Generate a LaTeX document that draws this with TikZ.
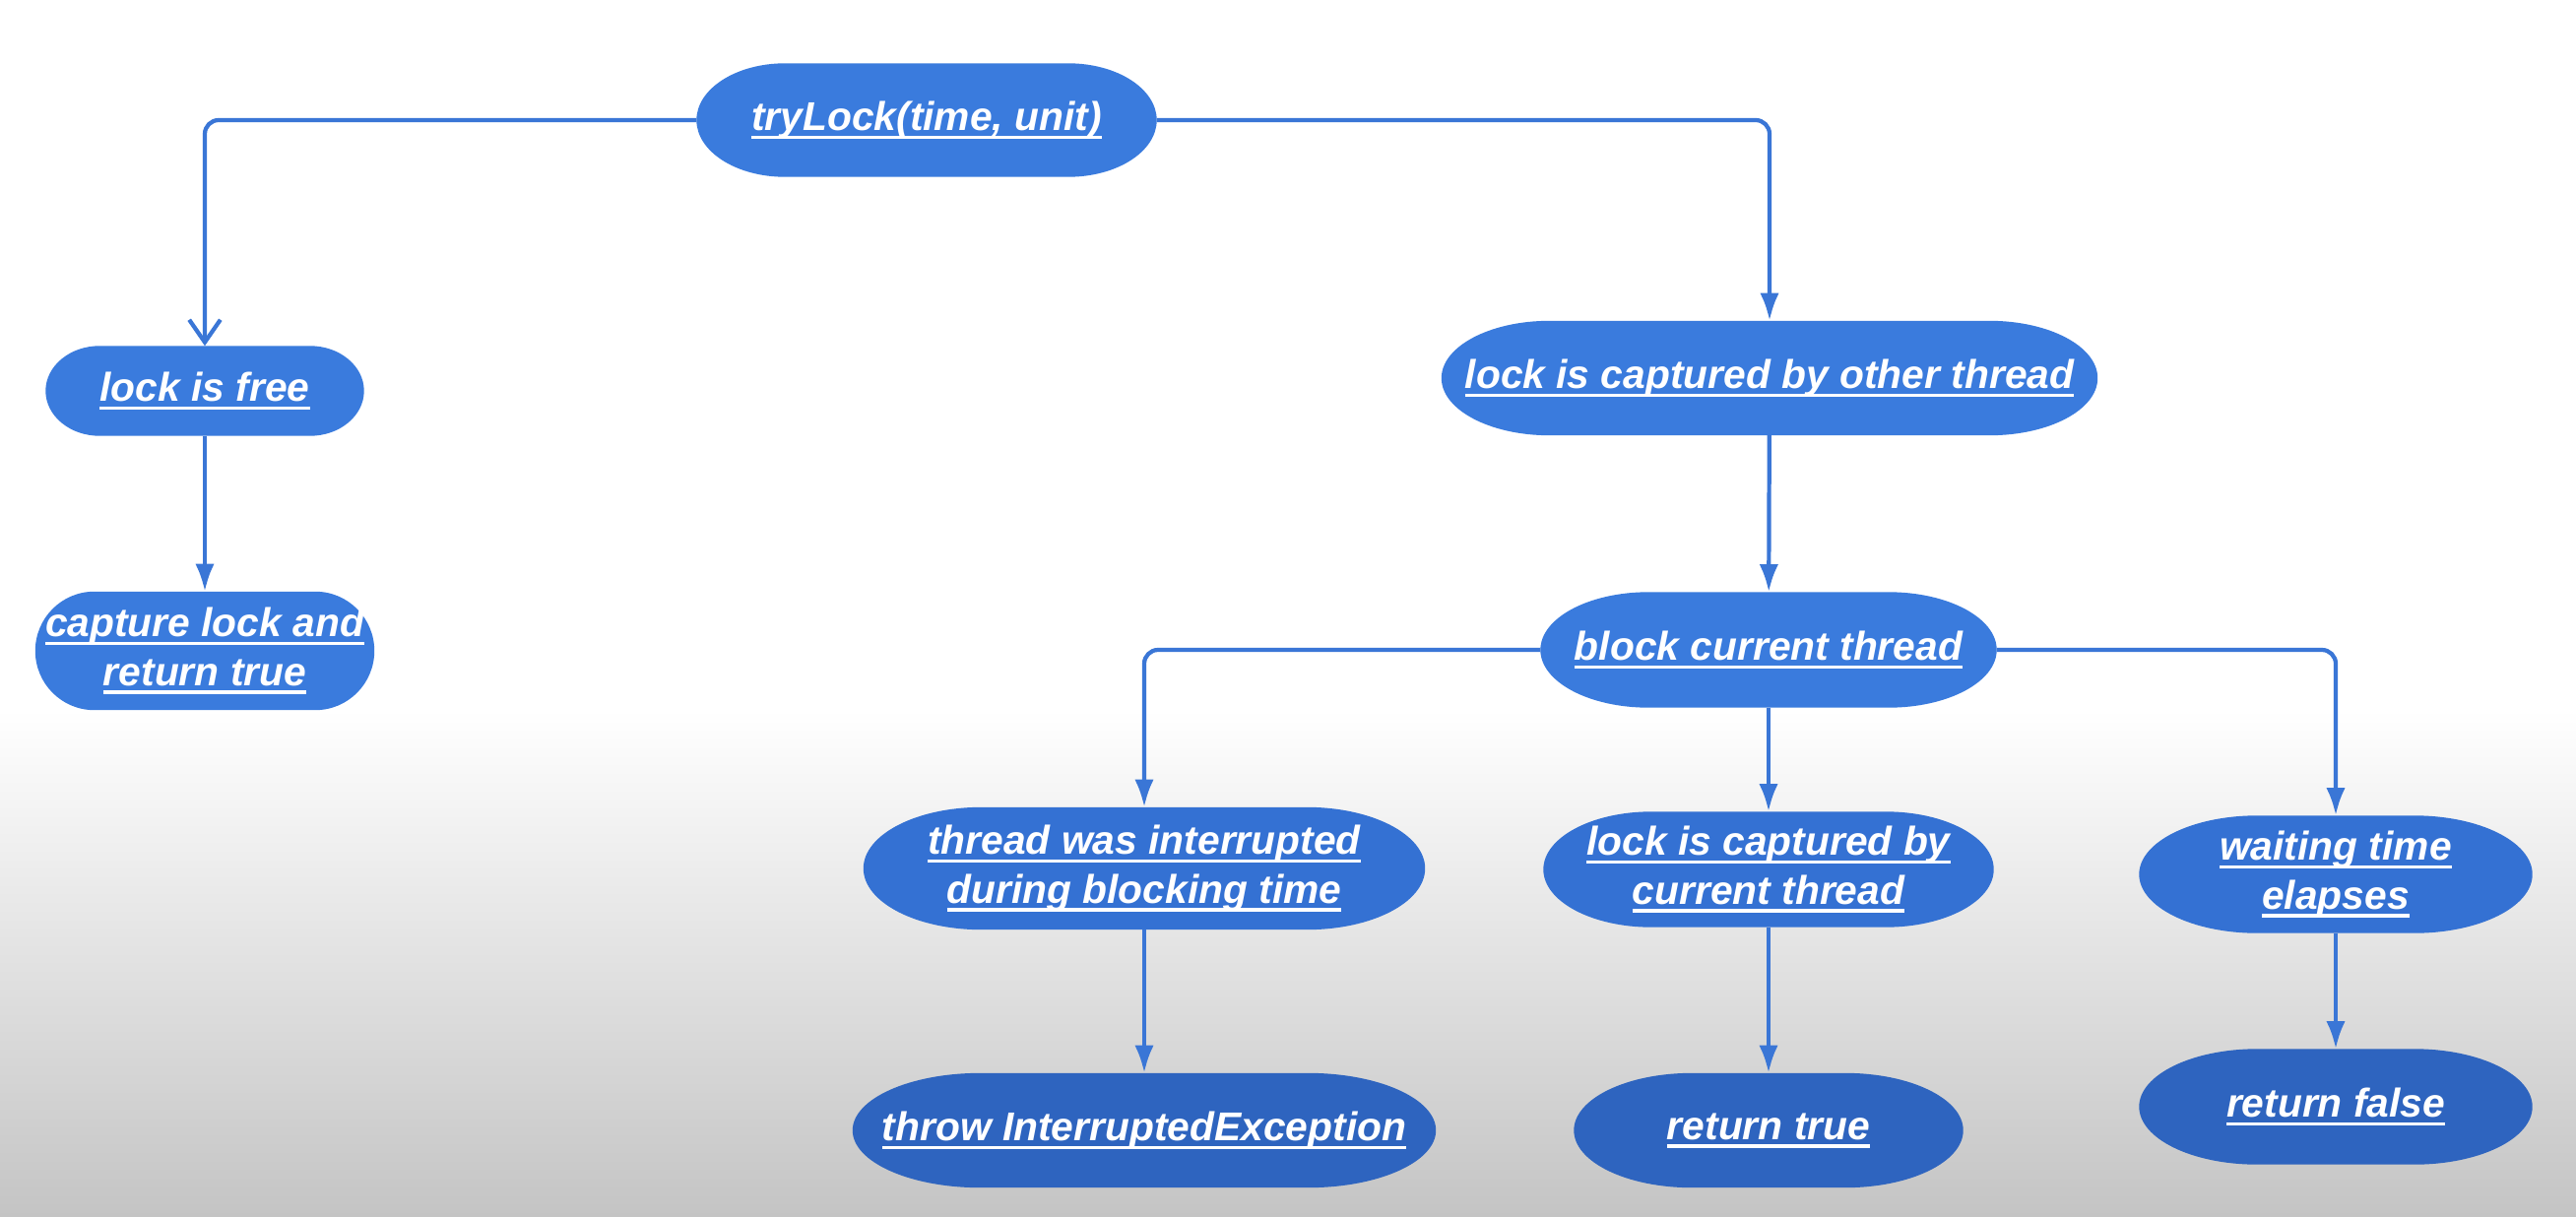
\documentclass[tikz,border=0pt]{standalone}
\usepackage{fontspec}
\usepackage{tikz}
\usetikzlibrary{calc}
\usetikzlibrary{arrows.meta}
\newfontfamily\pillfont{Liberation Sans}
\definecolor{pillA}{HTML}{3A7BDD}
\definecolor{pillB}{HTML}{3471D3}
\definecolor{pillC}{HTML}{2E64BF}
\definecolor{wire}{HTML}{3A76D6}
\definecolor{bggray}{HTML}{C4C4C4}
\pgfdeclarelayer{paper}
\pgfdeclarelayer{pills}
\pgfsetlayers{paper,pills,main}
\newsavebox{\pillbox}
\newcommand{\pillul}[1]{\sbox{\pillbox}{#1}\rlap{\vrule height -1.5pt depth 2.4pt width \wd\pillbox}\usebox{\pillbox}}

\begin{document}
\begin{tikzpicture}[
  pill/.style={rectangle, inner sep=0pt, align=center, text=white,
    font=\pillfont\bfseries\itshape\fontsize{11.6}{14}\selectfont},
  wireline/.style={draw=wire, line width=1.2pt, rounded corners=4pt},
  arr/.style={wireline, -{Latex[length=8pt,width=5.5pt]}},
  barb/.style={wireline, -{Straight Barb[length=6.5pt,width=9pt,line width=1.2pt]}}]
\useasboundingbox (0,0) rectangle (26.16,-12.36);
\begin{pgfonlayer}{paper}
\fill[white] (0,0) rectangle (26.16,-12.36);
\shade[top color=white, bottom color=bggray] (0,-7.2) rectangle (26.16,-12.36);
\end{pgfonlayer}

\node (try) at (9.41,-1.22) [pill, minimum width=4.66cm, minimum height=1.14cm] {\pillul{tryLock(time, unit)}};
\node (free) at (2.08,-3.97) [pill, minimum width=3.22cm, minimum height=0.90cm] {\pillul{lock is free}};
\node (capt) at (2.08,-6.61) [pill, minimum width=3.43cm, minimum height=1.19cm] {\pillul{capture lock and}\\\pillul{return true}};
\node (other) at (17.97,-3.84) [pill, minimum width=6.65cm, minimum height=1.15cm] {\pillul{lock is captured by other thread}};
\node (block) at (17.96,-6.60) [pill, minimum width=4.62cm, minimum height=1.16cm] {\pillul{block current thread}};
\node (intr) at (11.62,-8.82) [pill, minimum width=5.69cm, minimum height=1.23cm] {\pillul{thread was interrupted}\\\pillul{during blocking time}};
\node (cur) at (17.96,-8.83) [pill, minimum width=4.56cm, minimum height=1.16cm] {\pillul{lock is captured by}\\\pillul{current thread}};
\node (wait) at (23.72,-8.88) [pill, minimum width=3.98cm, minimum height=1.18cm] {\pillul{waiting time}\\\pillul{elapses}};
\node (throw) at (11.62,-11.48) [pill, minimum width=5.91cm, minimum height=1.15cm] {\pillul{throw InterruptedException}};
\node (rtrue) at (17.96,-11.48) [pill, minimum width=3.94cm, minimum height=1.15cm] {\pillul{return true}};
\node (rfalse) at (23.72,-11.24) [pill, minimum width=3.98cm, minimum height=1.16cm] {\pillul{return false}};

\begin{pgfonlayer}{pills}
\foreach \nd/\col/\rad in {try/pillA/0.9cm, free/pillA/0.55cm, capt/pillA/0.6cm, other/pillA/1.1cm, block/pillA/1.1cm,
  intr/pillB/1.2cm, cur/pillB/1.1cm, wait/pillB/1.2cm, throw/pillC/1.3cm, rtrue/pillC/1.2cm, rfalse/pillC/1.2cm}
  \fill[\col] let \p1=(\nd.south west), \p2=(\nd.north east) in
    ({\x1+\rad},\y1) -- ({\x2-\rad},\y1)
    arc[start angle=-90, end angle=90, x radius=\rad, y radius={(\y2-\y1)/2}]
    -- ({\x1+\rad},\y2)
    arc[start angle=90, end angle=270, x radius=\rad, y radius={(\y2-\y1)/2}] -- cycle;
\end{pgfonlayer}

\draw[barb] (try.west) -| (free.north);
\draw[arr] (try.east) -| (other.north);
\draw[arr] (free) -- (capt);
\draw[arr] (other) -- (block);
\draw[arr] (block.west) -| (intr.north);
\draw[arr] (block) -- (cur);
\draw[arr] (block.east) -| (wait.north);
\draw[arr] (intr) -- (throw);
\draw[arr] (cur) -- (rtrue);
\draw[arr] (wait) -- (rfalse);

\end{tikzpicture}
\end{document}
